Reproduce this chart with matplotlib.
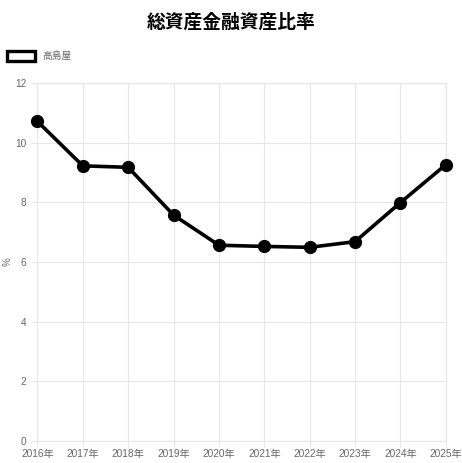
import matplotlib.pyplot as plt
from matplotlib.patches import Rectangle

plt.rcParams['font.family'] = ['Liberation Sans', 'Noto Sans CJK JP', 'DejaVu Sans']

years = ['2016年', '2017年', '2018年', '2019年', '2020年',
         '2021年', '2022年', '2023年', '2024年', '2025年']
ratio = [10.71, 9.22, 9.17, 7.57, 6.56, 6.52, 6.49, 6.68, 7.99, 9.26]
series_name = '高島屋'
title = '総資産金融資産比率'

fig = plt.figure(figsize=(4.62, 4.63), dpi=100)
ax = fig.add_axes([0.081, 0.0475, 0.884, 0.7735])

x = list(range(len(years)))
ax.plot(x, ratio, color='black', lw=2.6, marker='o', ms=8.5,
        markerfacecolor='black', markeredgecolor='black', zorder=3, clip_on=False)

ax.set_xlim(0, len(years) - 1)
ax.set_ylim(0, 12)
ax.set_xticks(x)
ax.set_xticklabels(years)
ax.set_yticks(range(0, 13, 2))

grid_c = '#e6e6e6'
ax.grid(True, color=grid_c, lw=0.8)
ax.set_axisbelow(True)
for s in ax.spines.values():
    s.set_color(grid_c)
    s.set_linewidth(0.8)
ax.tick_params(axis='both', colors=grid_c, labelcolor='#666666', labelsize=7.3, length=4, width=0.8)
ax.tick_params(axis='x', pad=2)
ax.tick_params(axis='y', pad=4)

fig.text(0.016, 0.434, '%', rotation=90, fontsize=7, color='#666666', ha='center', va='center')
fig.text(0.5, 0.952, title, fontsize=13.5, fontweight='bold', ha='center', va='center', color='black')

fig.patches.append(Rectangle((6.5 / 462, 1 - 61 / 463), 28 / 462, 10.5 / 463,
                             transform=fig.transFigure, facecolor='white',
                             edgecolor='black', lw=2.4))
fig.text(42 / 462, 1 - 55.5 / 463, series_name, fontsize=7, color='#666666', ha='left', va='center')

fig.savefig('out.png', dpi=100)
